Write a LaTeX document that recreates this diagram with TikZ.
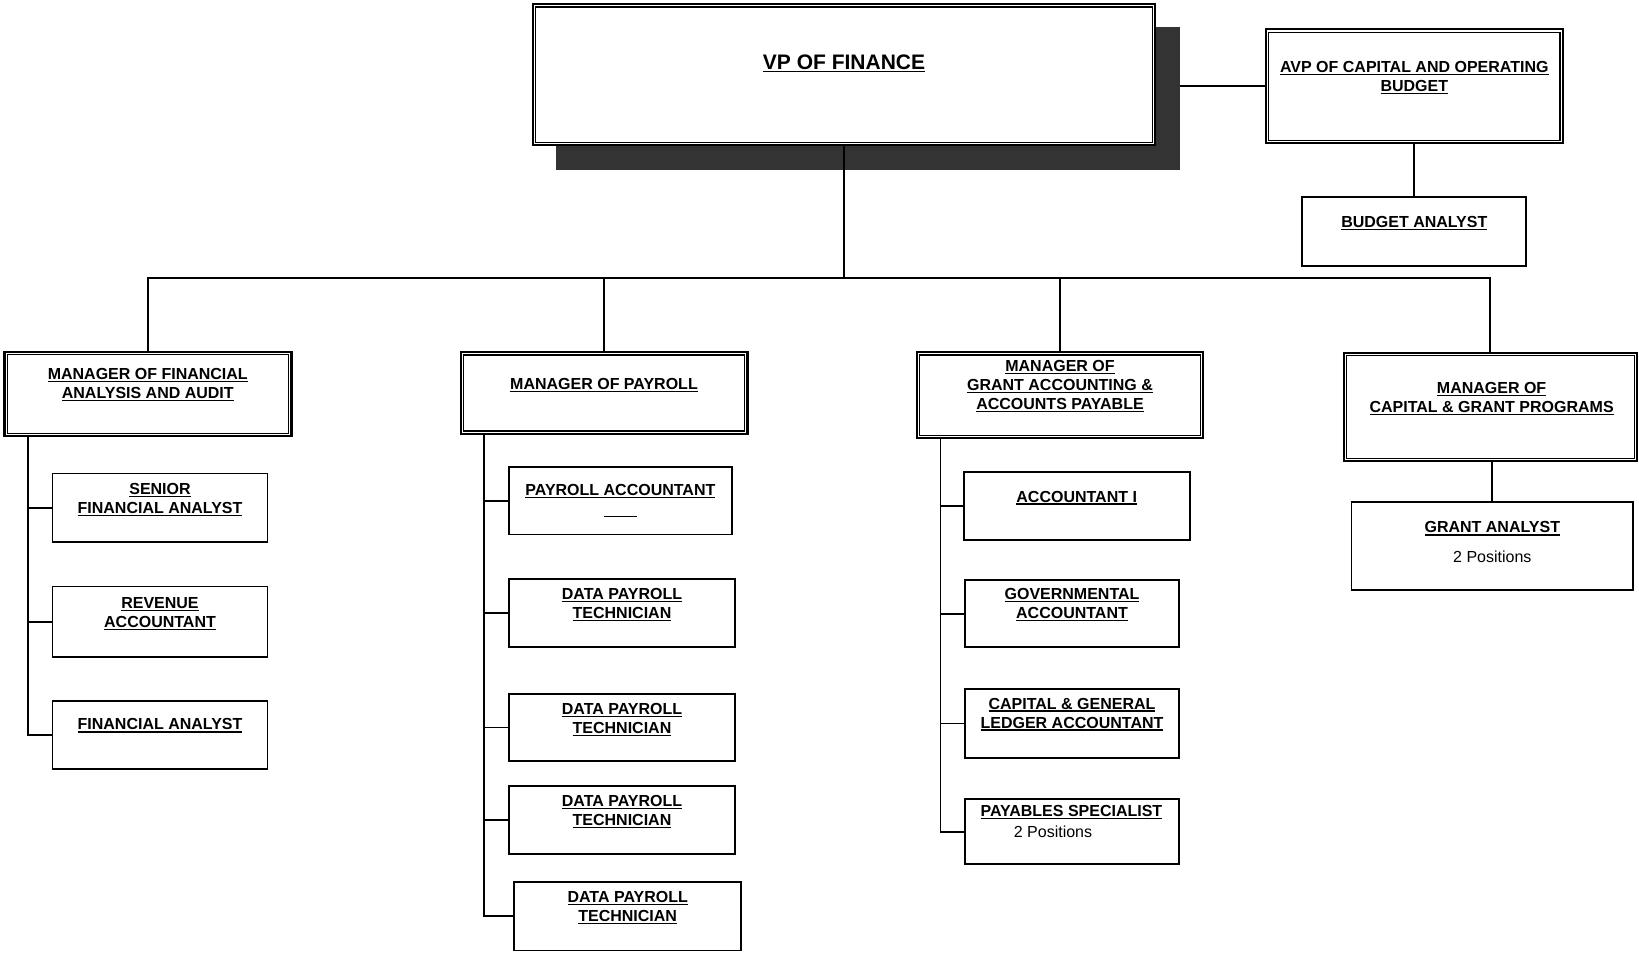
\documentclass[tikz,border=0pt]{standalone}
\usepackage{fontspec}
\setmainfont{Liberation Sans}
\usetikzlibrary{backgrounds}
% underlined title line: rule drawn just below the baseline
\newcommand\ulin[1]{\setbox0\hbox{#1}\rlap{\rule[-2.6pt]{\wd0}{1.3pt}}\box0}
\newcommand\ulbig[1]{\setbox0\hbox{#1}\rlap{\rule[-3.2pt]{\wd0}{1.7pt}}\box0}
\begin{document}
\begin{tikzpicture}[x=1pt,y=-1pt,
  box/.style={draw, line width=1.8pt, fill=white, inner sep=0pt},
  dbox/.style={draw, line width=2.1pt, fill=white, inner sep=0pt},
  inner frame/.style={draw, line width=1.2pt},
  ttl/.style={font=\bfseries\fontsize{16}{19}\selectfont, align=center, inner sep=0pt, anchor=north},
  note/.style={font=\fontsize{16}{19}\selectfont, inner sep=0pt, anchor=north},
  link/.style={line width=1.8pt}]

\useasboundingbox (0,0) rectangle (1639,953);

% ---- boxes ----
\node[dbox, minimum width=622, minimum height=141] (vp) at (844,74.7) {};
\node[dbox, minimum width=297, minimum height=114] (avp) at (1414.3,86.3) {};
\node[box, minimum width=224, minimum height=68.5] (ba) at (1414.3,231.6) {};

\node[dbox, minimum width=287, minimum height=84] (m1) at (148,394) {};
\node[dbox, minimum width=286.5, minimum height=81.6] (m2) at (604.2,393) {};
\node[dbox, minimum width=286.5, minimum height=85.8] (m3) at (1060,395.1) {};
\node[dbox, minimum width=293.5, minimum height=108] (m4) at (1490.3,407) {};

% thin inner line of the double-framed boxes
\foreach \n in {vp,avp,m1,m2,m3,m4}
  \draw[inner frame] ([xshift=3.9pt,yshift=-3.9pt]\n.north west) rectangle ([xshift=-3.9pt,yshift=3.9pt]\n.south east);

\node[box, minimum width=215, minimum height=68.5] (sfa) at (160,507.7) {};
\node[box, minimum width=215, minimum height=70.5] (rev) at (160,621.7) {};
\node[box, minimum width=215, minimum height=68] (fa) at (160,734.7) {};

\node[box, minimum width=223, minimum height=67.5] (pa) at (620.4,500.7) {};
\node[box, minimum width=226, minimum height=68.5] (dp1) at (622,613) {};
\node[box, minimum width=226, minimum height=67.5] (dp2) at (622,727.5) {};
\node[box, minimum width=226, minimum height=68.5] (dp3) at (622,820) {};
\node[box, minimum width=227, minimum height=68.5] (dp4) at (627.7,916.2) {};

\node[box, minimum width=226, minimum height=67.5] (acc) at (1076.7,505.9) {};
\node[box, minimum width=214.5, minimum height=67.5] (gov) at (1072,613.6) {};
\node[box, minimum width=214.5, minimum height=69.5] (cgl) at (1072,723.4) {};
\node[box, minimum width=214.5, minimum height=64.5] (ps) at (1072,831.6) {};

\node[box, minimum width=281.5, minimum height=88] (ga) at (1492.3,545.9) {};

% ---- shadow and connecting lines, behind the boxes ----
\begin{pgfonlayer}{background}
  \node[fill=black!80, inner sep=0pt, minimum width=624, minimum height=143.2] (vpsh) at (867.5,98.2) {};
  \coordinate (hub) at (844,278);
  \draw[link] (vp.south) -- (hub);
  \draw[link] (hub) -| (m1.north);
  \draw[link] (hub) -| (m2.north);
  \draw[link] (hub) -| (m3.north);
  \draw[link] (hub) -| (m4.north);
  \draw[link] (avp.west) -- (avp.west -| vpsh.east);
  \draw[link] (avp.south) -- (ba.north);
  \draw[link] (ga.north |- m4.south) -- (ga.north);

  \coordinate (m1bus) at (27.7,0);
  \draw[link] (m1.south -| m1bus) |- (fa.west);
  \draw[link] (m1bus |- sfa.west) -- (sfa.west);
  \draw[link] (m1bus |- rev.west) -- (rev.west);

  \coordinate (m2bus) at (484,0);
  \draw[link] (m2.south -| m2bus) |- (dp4.west);
  \draw[link] (m2bus |- pa.west) -- (pa.west);
  \draw[link] (m2bus |- dp1.west) -- (dp1.west);
  \draw[link] (m2bus |- dp2.west) -- (dp2.west);
  \draw[link] (m2bus |- dp3.west) -- (dp3.west);

  \coordinate (m3bus) at (940.5,0);
  \draw[link] (m3.south -| m3bus) |- (ps.west);
  \draw[link] (m3bus |- acc.west) -- (acc.west);
  \draw[link] (m3bus |- gov.west) -- (gov.west);
  \draw[link] (m3bus |- cgl.west) -- (cgl.west);
\end{pgfonlayer}

% ---- titles ----
\node[ttl, font=\bfseries\fontsize{21}{25}\selectfont] (vp-t) at (844,54.2) {\ulbig{VP OF FINANCE}};
\node[ttl] (avp-t) at (1414.3,61.2) {\ulin{AVP OF CAPITAL AND OPERATING}\\\ulin{BUDGET}};
\node[ttl] (ba-t) at (1414.3,215.9) {\ulin{BUDGET ANALYST}};

\node[ttl] (m1-t) at (147.8,368.5) {\ulin{MANAGER OF FINANCIAL}\\\ulin{ANALYSIS AND AUDIT}};
\node[ttl] (m2-t) at (604,377.9) {\ulin{MANAGER OF PAYROLL}};
\node[ttl] (m3-t) at (1060,360.2) {\ulin{MANAGER OF}\\\ulin{GRANT ACCOUNTING \&}\\\ulin{ACCOUNTS PAYABLE}};
\node[ttl] (m4-t) at (1491.6,382.3) {\ulin{MANAGER OF}\\\ulin{CAPITAL \& GRANT PROGRAMS}};

\node[ttl] (sfa-t) at (160,483.3) {\ulin{SENIOR}\\\ulin{FINANCIAL ANALYST}};
\node[ttl] (rev-t) at (160,597.6) {\ulin{REVENUE}\\\ulin{ACCOUNTANT}};
\node[ttl] (fa-t) at (160,718.6) {\ulin{FINANCIAL ANALYST}};

\node[ttl] (pa-t) at (620.4,484.5) {\ulin{PAYROLL ACCOUNTANT}\\\ulin{\hspace{33pt}}};
\node[ttl] (dp1-t) at (622,588) {\ulin{DATA PAYROLL}\\\ulin{TECHNICIAN}};
\node[ttl] (dp2-t) at (622,703) {\ulin{DATA PAYROLL}\\\ulin{TECHNICIAN}};
\node[ttl] (dp3-t) at (622,795) {\ulin{DATA PAYROLL}\\\ulin{TECHNICIAN}};
\node[ttl] (dp4-t) at (627.7,891.2) {\ulin{DATA PAYROLL}\\\ulin{TECHNICIAN}};

\node[ttl] (acc-t) at (1076.7,490.8) {\ulin{ACCOUNTANT I}};
\node[ttl] (gov-t) at (1072,588) {\ulin{GOVERNMENTAL}\\\ulin{ACCOUNTANT}};
\node[ttl] (cgl-t) at (1072,697.8) {\ulin{CAPITAL \& GENERAL}\\\ulin{LEDGER ACCOUNTANT}};
\node[ttl] (ps-t) at (1071.4,805.5) {\ulin{PAYABLES SPECIALIST}};
\node[note] (ps-n) at (1053,825.3) {2 Positions};

\node[ttl] (ga-t) at (1492.3,521.6) {\ulin{GRANT ANALYST}};
\node[note] (ga-n) at (1492.3,550.3) {2 Positions};
\end{tikzpicture}
\end{document}
